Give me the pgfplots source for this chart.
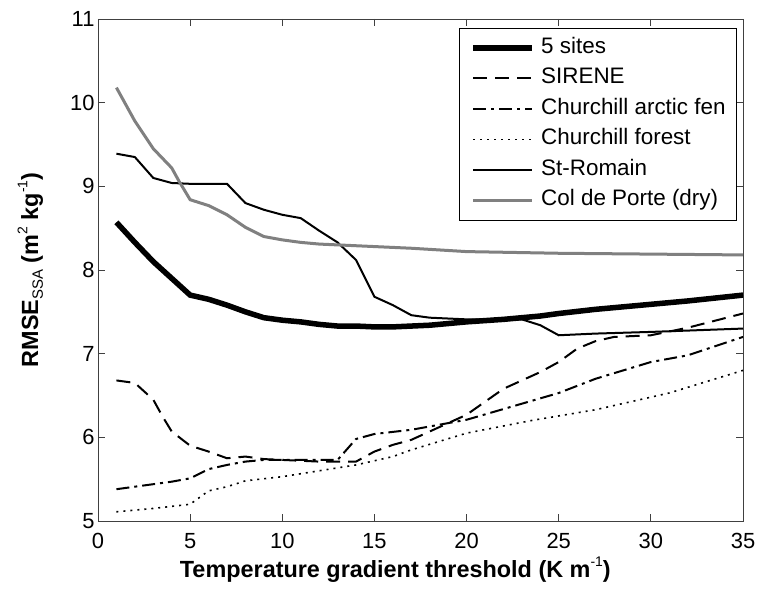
\documentclass[border=0pt]{standalone}
\usepackage{fontspec}
\setmainfont{Liberation Sans}
\usepackage{pgfplots}
\pgfplotsset{compat=1.18}

% RMSE of SSA versus temperature gradient threshold, one curve per site
\pgfplotstableread{
x y
1 8.57
2 8.33
3 8.10
4 7.90
5 7.70
6 7.65
7 7.58
8 7.50
9 7.43
10 7.40
11 7.38
12 7.35
13 7.33
14 7.33
15 7.32
16 7.32
17 7.33
18 7.34
19 7.36
20 7.38
22 7.41
24 7.45
25 7.48
27 7.53
30 7.59
32 7.63
35 7.70
}\allsites

\pgfplotstableread{
x y
1 6.68
2 6.65
3 6.45
3.5 6.25
4 6.07
5 5.90
6 5.83
7 5.75
8 5.77
9 5.74
10 5.73
12 5.71
14 5.71
15 5.83
16 5.91
17 5.97
18 6.07
20 6.27
22 6.58
24 6.78
25 6.90
26 7.06
27 7.15
28 7.20
30 7.22
32 7.31
35 7.48
}\sirene

\pgfplotstableread{
x y
1 5.38
3 5.44
4 5.47
5 5.51
6 5.62
7 5.67
8 5.71
9 5.73
11 5.73
13 5.73
14 5.98
15 6.04
17 6.09
20 6.21
22.5 6.37
25 6.53
27 6.70
30 6.90
32 6.98
35 7.20
}\fen

\pgfplotstableread{
x y
1 5.11
3 5.15
5 5.20
6 5.36
7 5.41
8 5.48
10 5.53
12 5.60
14 5.67
16 5.77
17 5.85
20 6.05
23.5 6.20
27 6.33
31 6.53
35 6.80
}\forest

\pgfplotstableread{
x y
1 9.39
2 9.35
3 9.10
4 9.04
5 9.03
6 9.03
7 9.03
8 8.80
9 8.72
10 8.66
11 8.62
12 8.47
13 8.33
14 8.12
15 7.68
16 7.58
17 7.46
18 7.43
19 7.42
20 7.41
23 7.41
24 7.34
25 7.22
26 7.23
27 7.24
30 7.26
35 7.30
}\stromain

\pgfplotstableread{
x y
1 10.18
2 9.78
3 9.45
4 9.22
4.4 9.06
5 8.84
6 8.77
7 8.66
8 8.51
9 8.40
10 8.36
11 8.33
12 8.31
13 8.30
15 8.28
17 8.26
20 8.22
25 8.20
35 8.18
}\coldeporte

\definecolor{cdpgray}{RGB}{128,128,128}
\newcommand{\supsmall}[1]{\raisebox{0.85ex}{\fontsize{14}{16}\selectfont\mdseries #1}}
\newcommand{\subsmall}[1]{\raisebox{-0.4ex}{\fontsize{15}{16}\selectfont\mdseries #1}}

\begin{document}
\begin{tikzpicture}
\begin{axis}[
  scale only axis,
  width=645bp, height=502bp,
  xmin=0, xmax=35, ymin=5, ymax=11,
  xtick={0,5,...,35}, ytick={5,6,...,11},
  tick align=inside,
  major tick length=7bp,
  axis line style={black!75, line width=0.8bp},
  every tick/.style={black!75, line width=0.8bp},
  /pgf/number format/assume math mode=true,
  tick label style={font=\fontsize{22}{26}\selectfont},
  xticklabel style={yshift=-9bp},
  xlabel={\textbf{Temperature gradient threshold (K m\supsmall{-1})}},
  ylabel={\textbf{RMSE\subsmall{SSA} (m\supsmall{2} kg\supsmall{-1})}},
  every axis x label/.style={at={(axis description cs:0.461,-0.1116)}, anchor=base,
    font=\fontsize{23.5}{28}\selectfont},
  every axis y label/.style={at={(axis description cs:-0.093,0.5)}, anchor=base, rotate=90,
    font=\fontsize{23.5}{28}\selectfont},
  legend cell align=left,
  legend style={
    at={(1,1)}, anchor=north east, xshift=-6bp, yshift=-9bp,
    draw=black, line width=0.8bp, fill=white,
    font=\fontsize{22.5}{27}\selectfont,
    inner xsep=11bp, inner ysep=9bp,
    nodes={inner sep=0pt, text height=16bp, text depth=5bp},
    row sep=9.5bp,
    /tikz/every odd column/.append style={column sep=6bp},
  },
  legend image code/.code={\draw[#1] (0bp,0bp) -- (59bp,0bp);},
]
\addplot[black, line width=5.5bp] table {\allsites};
\addlegendentry{5 sites}
\addplot[black, line width=2bp, dash pattern=on 14bp off 8bp] table {\sirene};
\addlegendentry{SIRENE}
\addplot[black, line width=2bp, dash pattern=on 13bp off 5bp on 3bp off 5bp] table {\fen};
\addlegendentry{Churchill arctic fen}
\addplot[black, line width=1.6bp, dash pattern=on 2bp off 5bp] table {\forest};
\addlegendentry{Churchill forest}
\addplot[black, line width=2bp] table {\stromain};
\addlegendentry{St-Romain}
\addplot[cdpgray, line width=3bp] table {\coldeporte};
\addlegendentry{Col de Porte (dry)}
\coordinate (sw) at (rel axis cs:0,0);
\coordinate (ne) at (rel axis cs:1,1);
\end{axis}
\pgfresetboundingbox
\path ([shift={(-98bp,-70bp)}]sw) rectangle ([shift={(14bp,19bp)}]ne);
\end{tikzpicture}
\end{document}
